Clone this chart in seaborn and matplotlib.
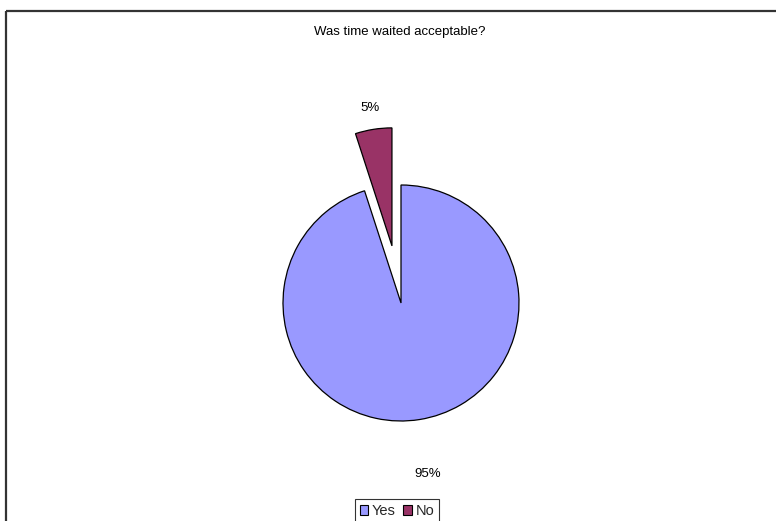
import matplotlib
matplotlib.use("Agg")
import matplotlib.pyplot as plt
from matplotlib.patches import Patch
from matplotlib.lines import Line2D
import numpy as np
import seaborn as sns

# Survey responses
categories = ["Yes", "No"]
shares = [95, 5]
pct_labels = ["95%", "5%"]

sns.set_theme(style="white")
plt.rcParams["font.family"] = ["Liberation Sans", "DejaVu Sans"]

colors = ["#9999FF", "#993366"]
explode = [0.0, 0.49]
label_dist = [1.47, 1.18]

W, H = 776, 521
fig = plt.figure(figsize=(W / 100, H / 100), dpi=100)
ax = fig.add_axes([0, 0, 1, 1])

wedges, _ = ax.pie(
    shares,
    colors=colors,
    explode=explode,
    startangle=90,
    counterclock=False,
    wedgeprops=dict(edgecolor="black", linewidth=0.9),
)

# pixel-based scale: pie centre at (401, 303) px, radius 118 px
cx, cy, r = 401, 303, 118
ax.set_aspect("auto")
ax.set_xlim((0 - cx) / r, (W - cx) / r)
ax.set_ylim((cy - H) / r, (cy - 0) / r)
ax.axis("off")

# percentage labels placed outside each wedge
for w, lab, d in zip(wedges, pct_labels, label_dist):
    mid = np.deg2rad((w.theta1 + w.theta2) / 2)
    x0, y0 = w.center
    ax.text(x0 + d * np.cos(mid), y0 + d * np.sin(mid), lab,
            ha="center", va="center", fontsize=9.5, color="black")

fig.text(400 / W, 1 - 32 / H, "Was time waited acceptable?",
         ha="center", va="center", fontsize=9.5, color="black")

handles = [Patch(facecolor=c, edgecolor="black", linewidth=0.8) for c in colors]
leg = fig.legend(handles, categories, loc="upper center", ncol=2,
                 bbox_to_anchor=(397 / W, 1 - 499 / H),
                 fontsize=10.5, frameon=True, fancybox=False,
                 handlelength=0.6, handleheight=0.6, handletextpad=0.25,
                 columnspacing=0.5, borderpad=0.35, borderaxespad=0)
leg.get_frame().set_edgecolor("black")
leg.get_frame().set_linewidth(0.8)

# chart area border: top and left edges only, ending at the canvas edge
bx, by = 5.5 / W, 1 - 10.5 / H
for xs, ys in [([bx, 1.0], [by, by]), ([bx, bx], [by, 0.0])]:
    fig.add_artist(Line2D(xs, ys, transform=fig.transFigure,
                          color="#333333", linewidth=1.6,
                          solid_capstyle="butt", clip_on=False))

fig.savefig("out.png", dpi=100)
